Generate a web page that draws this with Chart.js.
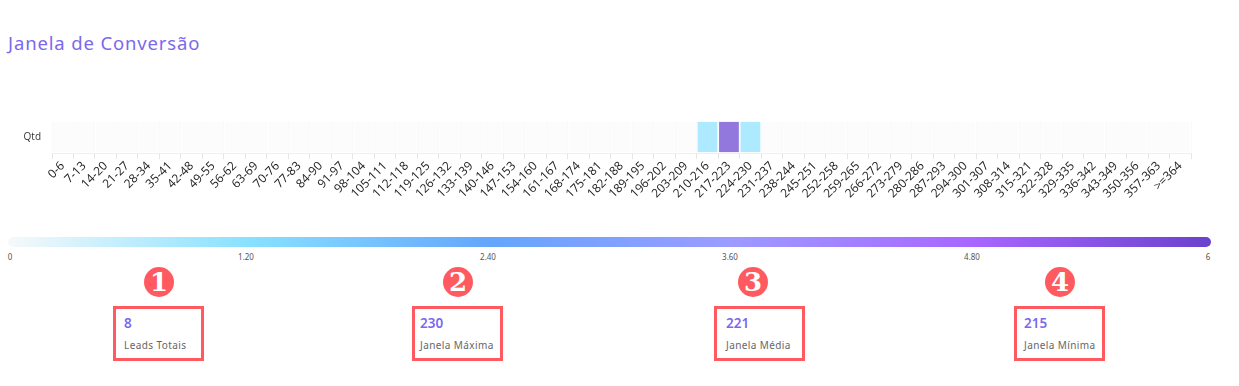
<!DOCTYPE html>
<html lang="pt">
<head>
<meta charset="utf-8">
<title>Janela de Conversão</title>
<script src="https://cdn.jsdelivr.net/npm/chart.js@4"></script>
<style>
html,body{margin:0;padding:0;background:#fff;width:1239px;height:386px;overflow:hidden;font-family:"Noto Sans",sans-serif}
#title{position:absolute;left:8px;top:31px;font:400 18.5px/24px "Noto Sans",sans-serif;letter-spacing:.85px;color:#7b68ee;white-space:nowrap}
#wrap{position:absolute;left:0;top:0;width:1239px;height:235px}
#bar{position:absolute;left:8px;top:237px;width:1203px;height:10px;border-radius:5px;background:linear-gradient(90deg,#f6f9fa 0%,#88e1ff 20%,#64a6fb 40%,#9c9bff 60%,#a966ff 80%,#6a42cc 100%)}
.lg{position:absolute;top:252px;font:8px/10px "Noto Sans",sans-serif;color:#555;transform:translateX(-50%);white-space:nowrap}
.num{position:absolute;top:267px;width:30px;height:30px;border-radius:50%;background:#ff5a5f;color:#fff;font:700 26px/30px "DejaVu Serif",serif;text-align:center;transform:translateX(-50%)}
.card{position:absolute;top:306px;width:85px;height:49px;border:3px solid #ff5a5f;background:#fff}
.cv{position:absolute;top:314px;font:600 13.5px/18px "Noto Sans",sans-serif;color:#7b68ee}
.cl{position:absolute;top:338px;font:10px/14px "Noto Sans",sans-serif;color:#666;letter-spacing:.4px;white-space:nowrap}
</style>
</head>
<body>
<div id="title">Janela de Conversão</div>
<div id="wrap"><canvas id="c" width="1239" height="235"></canvas></div>
<div id="bar"></div>
<div id="legendLabels"></div>
<div id="cards"></div>
<script>
const categories = ["0-6","7-13","14-20","21-27","28-34","35-41","42-48","49-55","56-62","63-69","70-76","77-83","84-90","91-97","98-104","105-111","112-118","119-125","126-132","133-139","140-146","147-153","154-160","161-167","168-174","175-181","182-188","189-195","196-202","203-209","210-216","217-223","224-230","231-237","238-244","245-251","252-258","259-265","266-272","273-279","280-286","287-293","294-300","301-307","308-314","315-321","322-328","329-335","336-342","343-349","350-356","357-363",">=364"];
const rowLabels = ["Qtd"];
const qtdValues = [0,0,0,0,0,0,0,0,0,0,0,0,0,0,0,0,0,0,0,0,0,0,0,0,0,0,0,0,0,0,1,6,1,0,0,0,0,0,0,0,0,0,0,0,0,0,0,0,0,0,0,0,0];
const legendTicks = ["0","1.20","2.40","3.60","4.80","6"];
const legendX = [10,246,488,730,972,1208];
const cardValues = ["8","230","221","215"];
const cardLabels = ["Leads Totais","Janela Máxima","Janela Média","Janela Mínima"];
const cardX = [113,412,714,1014];
const cardTextX = [124,420,726,1024];
const badgeX = [159,458,753,1060];
const cellColors = {0:"#fcfcfc",1:"#aeeaff",6:"#9278dd"};

const host=document.getElementById("cards");
legendTicks.forEach((t,i)=>{
  const d=document.createElement("div");d.className="lg";d.textContent=t;d.style.left=legendX[i]+"px";
  document.getElementById("legendLabels").appendChild(d);
});
cardValues.forEach((v,i)=>{
  const n=document.createElement("div");n.className="num";n.textContent=String(i+1);n.style.left=badgeX[i]+"px";
  const c=document.createElement("div");c.className="card";c.style.left=cardX[i]+"px";
  const b=document.createElement("div");b.className="cv";b.textContent=v;b.style.left=cardTextX[i]+"px";
  const s=document.createElement("div");s.className="cl";s.textContent=cardLabels[i];s.style.left=cardTextX[i]+"px";
  host.append(n,c,b,s);
});

new Chart(document.getElementById("c"),{
  type:"bar",
  data:{
    labels:categories,
    datasets:[{
      label:rowLabels[0],
      data:qtdValues.map(()=>[0,1]),
      backgroundColor:qtdValues.map(v=>cellColors[v]),
      categoryPercentage:1,
      barPercentage:0.92
    }]
  },
  options:{
    responsive:false,
    animation:false,
    layout:{padding:{top:121,right:48,left:0,bottom:0}},
    plugins:{legend:{display:false},title:{display:false},
      tooltip:{callbacks:{label:c=>rowLabels[0]+": "+qtdValues[c.dataIndex]}}},
    scales:{
      x:{
        grid:{color:"#fafafa",tickColor:"#e6e6e6",tickLength:6,offset:true},
        border:{color:"#eeeeee"},
        ticks:{autoSkip:false,maxRotation:45,minRotation:45,padding:0,color:"#222",font:{family:"Open Sans",size:12}},
        afterFit:s=>{s.height=82;}
      },
      y:{
        min:-0.03,max:1.03,
        grid:{display:false},border:{display:false},
        afterBuildTicks:s=>{s.ticks=[{value:0.5}];},
        ticks:{callback:()=>rowLabels[0],padding:3,color:"#333",font:{family:"Open Sans",size:10}},
        afterFit:s=>{s.width=52;}
      }
    }
  }
});
</script>
</body>
</html>
